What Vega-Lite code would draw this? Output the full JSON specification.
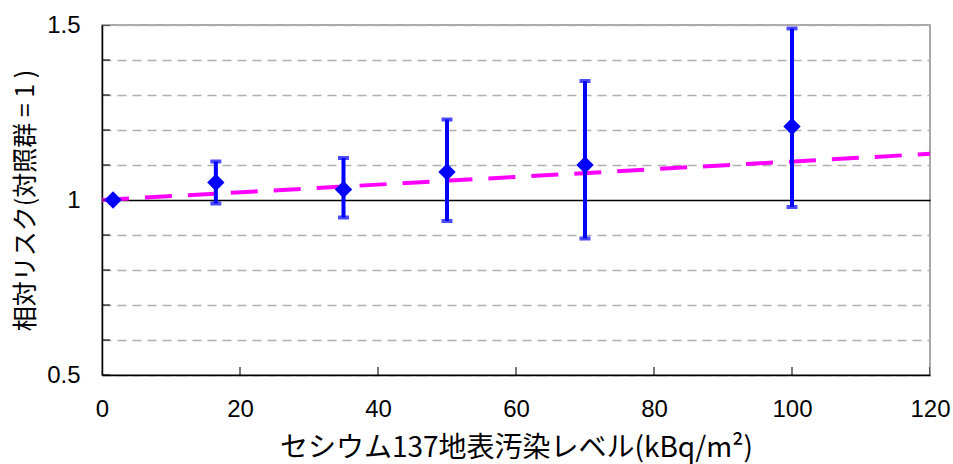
{
  "$schema": "https://vega.github.io/schema/vega-lite/v6.json",
  "width": 828,
  "height": 350,
  "autosize": "none",
  "padding": {"left": 102, "top": 25, "right": 23, "bottom": 89},
  "background": "white",
  "config": {
    "view": {"stroke": "#8c8c8c", "strokeWidth": 1.5},
    "axis": {
      "labelFont": "Liberation Sans",
      "labelFontSize": 24,
      "labelColor": "#000000",
      "labelOverlap": false,
      "labelFlush": false,
      "labelBound": false,
      "titleFont": "Noto Sans CJK JP",
      "titleFontWeight": "normal",
      "titleColor": "#000000",
      "domainColor": "#000000",
      "domainWidth": 1.5,
      "ticks": false
    }
  },
  "datasets": {
    "points": [
      {"cs": 1.6, "rr": 1.0, "lo": 1.0, "hi": 1.0},
      {"cs": 16.5, "rr": 1.05, "lo": 0.99, "hi": 1.11},
      {"cs": 35, "rr": 1.03, "lo": 0.95, "hi": 1.12},
      {"cs": 50, "rr": 1.08, "lo": 0.94, "hi": 1.23},
      {"cs": 70, "rr": 1.10, "lo": 0.89, "hi": 1.34},
      {"cs": 100, "rr": 1.21, "lo": 0.98, "hi": 1.49}
    ],
    "trend": [
      {"cs": 0, "rr": 1.0},
      {"cs": 120, "rr": 1.132}
    ],
    "xticks": [
      {"cs": 20, "base": 0.5}, {"cs": 40, "base": 0.5}, {"cs": 60, "base": 0.5},
      {"cs": 80, "base": 0.5}, {"cs": 100, "base": 0.5}, {"cs": 120, "base": 0.5}
    ],
    "yticks": [
      {"base": 0, "rr": 0.5}, {"base": 0, "rr": 0.6}, {"base": 0, "rr": 0.7}, {"base": 0, "rr": 0.8},
      {"base": 0, "rr": 0.9}, {"base": 0, "rr": 1.0}, {"base": 0, "rr": 1.1}, {"base": 0, "rr": 1.2},
      {"base": 0, "rr": 1.3}, {"base": 0, "rr": 1.4}, {"base": 0, "rr": 1.5}
    ]
  },
  "layer": [
    {
      "data": {"name": "trend"},
      "mark": {"type": "line", "color": "#FF00FF", "strokeWidth": 4, "strokeDash": [27, 16], "clip": true},
      "encoding": {
        "x": {
          "field": "cs", "type": "quantitative",
          "scale": {"domain": [0, 120], "nice": false},
          "axis": {
            "values": [0, 20, 40, 60, 80, 100, 120],
            "tickCount": 20,
            "grid": false,
            "labelPadding": 22,
            "title": "セシウム137地表汚染レベル(kBq/m²)",
            "titleFontSize": 28,
            "titlePadding": 13
          }
        },
        "y": {
          "field": "rr", "type": "quantitative",
          "scale": {"domain": [0.5, 1.5], "nice": false, "zero": false},
          "axis": {
            "values": [0.5, 0.6, 0.7, 0.8, 0.9, 1, 1.1, 1.2, 1.3, 1.4, 1.5],
            "tickCount": 20,
            "labelOverlap": false,
            "labelExpr": "indexof([0.5, 1, 1.5], datum.value) >= 0 ? format(datum.value, '.1~f') : ''",
            "grid": true,
            "gridColor": {"condition": {"test": "datum.value == 1", "value": "#000000"}, "value": "#b0b0b0"},
            "gridDash": {"condition": {"test": "datum.value == 1", "value": [1, 0]}, "value": [9, 6]},
            "gridWidth": 1.3,
            "labelPadding": 22,
            "title": "相対リスク(対照群 = 1 )",
            "titleFontSize": 25,
            "titlePadding": 8
          }
        }
      }
    },
    {
      "data": {"name": "xticks"},
      "mark": {"type": "tick", "color": "#000000", "orient": "vertical", "size": 16, "thickness": 1.5, "clip": true},
      "encoding": {
        "x": {"field": "cs", "type": "quantitative"},
        "y": {"field": "base", "type": "quantitative"}
      }
    },
    {
      "data": {"name": "yticks"},
      "mark": {"type": "tick", "color": "#000000", "orient": "horizontal", "size": 16, "thickness": 1.5, "clip": true},
      "encoding": {
        "x": {"field": "base", "type": "quantitative"},
        "y": {"field": "rr", "type": "quantitative"}
      }
    },
    {
      "data": {"name": "points"},
      "mark": {"type": "rule", "color": "#0000FF", "strokeWidth": 4},
      "encoding": {
        "x": {"field": "cs", "type": "quantitative"},
        "y": {"field": "lo", "type": "quantitative"},
        "y2": {"field": "hi"}
      }
    },
    {
      "data": {"name": "points"},
      "mark": {"type": "tick", "color": "#0000FF", "orient": "horizontal", "size": 11, "thickness": 4},
      "encoding": {
        "x": {"field": "cs", "type": "quantitative"},
        "y": {"field": "lo", "type": "quantitative"}
      }
    },
    {
      "data": {"name": "points"},
      "mark": {"type": "tick", "color": "#0000FF", "orient": "horizontal", "size": 11, "thickness": 4},
      "encoding": {
        "x": {"field": "cs", "type": "quantitative"},
        "y": {"field": "hi", "type": "quantitative"}
      }
    },
    {
      "data": {"name": "points"},
      "mark": {"type": "point", "shape": "diamond", "filled": true, "color": "#0000FF", "size": 300, "opacity": 1},
      "encoding": {
        "x": {"field": "cs", "type": "quantitative"},
        "y": {"field": "rr", "type": "quantitative"}
      }
    }
  ]
}
